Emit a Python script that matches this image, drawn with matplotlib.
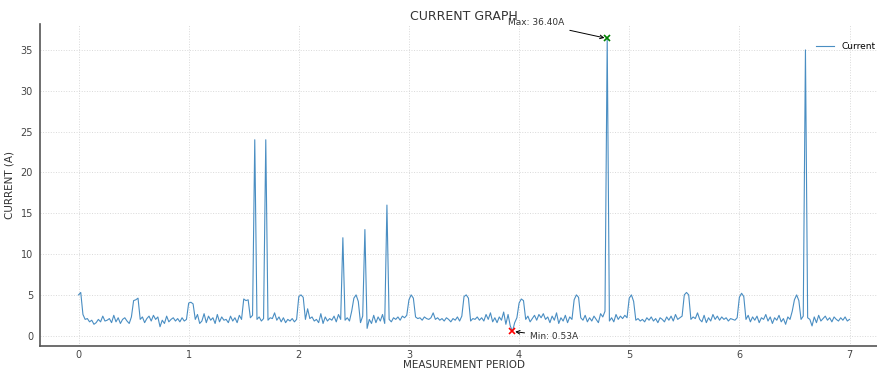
import numpy as np
import matplotlib
matplotlib.use("Agg")
import matplotlib.pyplot as plt

# Current readings sampled every 0.02 of the measurement period (0 .. 7)
seg0 = [5.0, 5.3, 2.6, 2.0, 2.1, 1.7, 1.9, 1.4, 1.6, 2.0,
        1.7, 2.4, 1.8, 1.9, 2.1, 1.6, 2.5, 1.7, 2.2, 1.5,
        2.0, 2.2, 1.8, 1.5, 2.3, 4.3, 4.4, 4.6, 2.0, 2.3,
        1.6, 2.1, 2.4, 1.8, 2.5, 2.0, 2.3, 1.1, 1.9, 1.5,
        2.4, 1.7, 2.0, 2.2, 1.8, 2.1, 1.7, 2.2, 1.8, 2.0]
seg1 = [4.0, 4.1, 3.9, 2.0, 2.6, 1.5, 1.8, 2.7, 1.6, 2.4,
        1.9, 2.2, 1.5, 2.6, 1.7, 2.3, 1.9, 2.0, 1.6, 2.4,
        1.8, 2.2, 1.6, 2.5, 2.0, 4.5, 4.3, 4.4, 2.2, 2.5,
        24.0, 2.0, 2.3, 1.8, 2.1, 24.0, 1.9, 2.2, 2.1, 2.8,
        1.9, 2.3, 1.7, 2.2, 1.6, 2.0, 1.8, 2.1, 1.7, 2.0]
seg2 = [4.8, 5.0, 4.7, 2.0, 3.3, 2.1, 2.3, 1.8, 2.0, 1.6,
        2.7, 1.5, 2.3, 1.8, 2.1, 1.9, 2.4, 1.7, 2.6, 2.0,
        12.0, 1.9, 2.2, 1.8, 3.0, 4.6, 5.0, 4.2, 1.6, 2.4,
        13.0, 0.9, 2.0, 1.5, 2.5, 1.6, 2.3, 1.8, 2.6, 1.5,
        16.0, 2.0, 1.7, 2.2, 2.0, 2.3, 1.9, 2.4, 2.2, 2.5]
seg3 = [4.4, 5.0, 4.6, 2.3, 2.1, 2.2, 1.9, 2.3, 2.1, 2.0,
        2.2, 2.8, 2.0, 2.2, 1.9, 2.1, 1.8, 2.2, 2.0, 1.7,
        2.1, 1.9, 2.3, 1.8, 2.4, 4.8, 5.0, 4.6, 1.8, 2.1,
        2.0, 2.3, 1.9, 2.2, 1.8, 2.6, 2.0, 2.8, 1.7, 2.2,
        1.6, 2.3, 1.9, 2.9, 1.4, 2.6, 1.2, 0.53, 1.6, 2.2]
seg4 = [4.0, 4.5, 4.3, 2.0, 2.4, 1.7, 2.1, 2.5, 1.9, 2.6,
        2.2, 2.7, 2.0, 2.3, 1.6, 2.4, 1.9, 2.8, 1.5, 2.2,
        1.8, 2.5, 1.6, 2.3, 2.0, 4.4, 5.0, 4.7, 2.2, 1.9,
        2.5, 1.7, 2.2, 1.8, 2.4, 2.0, 1.6, 2.7, 2.3, 3.0,
        36.4, 1.8, 2.2, 1.7, 2.6, 2.0, 2.4, 2.1, 2.5, 2.2]
seg5 = [4.6, 5.0, 4.2, 1.9, 2.1, 1.8, 2.0, 1.7, 2.2, 1.9,
        2.3, 1.8, 2.1, 1.6, 2.2, 2.0, 1.7, 2.3, 1.9, 2.4,
        1.8, 2.6, 2.0, 2.2, 2.4, 5.0, 5.3, 5.0, 2.0, 2.3,
        2.1, 2.8, 2.0, 1.7, 2.5, 1.6, 2.2, 1.8, 2.6, 2.0,
        2.4, 1.9, 2.3, 2.0, 2.2, 1.8, 2.1, 2.0, 1.9, 2.2]
seg6 = [4.7, 5.2, 4.8, 2.0, 2.5, 1.7, 2.3, 1.9, 2.4, 1.6,
        2.2, 2.0, 2.6, 1.8, 2.3, 1.5, 2.2, 1.9, 2.5, 1.7,
        2.1, 1.4, 2.3, 2.0, 3.0, 4.4, 5.0, 4.3, 2.0, 2.4,
        35.0, 2.2, 2.0, 1.2, 2.3, 1.6, 2.5, 1.8, 2.1, 2.4,
        1.9, 2.2, 1.7, 2.3, 2.0, 1.8, 2.2, 1.9, 2.3, 1.8,
        2.0]

current = np.array(seg0 + seg1 + seg2 + seg3 + seg4 + seg5 + seg6)
period = np.linspace(0, 7, len(current))

title = "CURRENT GRAPH"
xlabel = "MEASUREMENT PERIOD"
ylabel = "CURRENT (A)"
xticks = [0, 1, 2, 3, 4, 5, 6, 7]
yticks = [0, 5, 10, 15, 20, 25, 30, 35]

fig = plt.figure(figsize=(8.77, 3.69), dpi=100)
ax = fig.add_axes([0.0456, 0.0623, 0.967, 0.873])

ax.plot(period, current, color="#2a7ab8", lw=0.8, alpha=0.85, label="Current")

imax = int(np.argmax(current))
imin = int(np.argmin(current))
ax.plot(period[imax], current[imax], "x", color="green", ms=4, mew=1.2)
ax.plot(period[imin], current[imin], "x", color="red", ms=4, mew=1.2)

ax.annotate(f"Max: {current[imax]:.2f}A", xy=(period[imax], current[imax]),
            xytext=(3.9, 38.3), ha="left", va="center", fontsize=6.5, color="#333333",
            arrowprops=dict(arrowstyle="->", color="black", lw=0.7))
ax.annotate(f"Min: {current[imin]:.2f}A", xy=(period[imin], current[imin]),
            xytext=(4.1, -0.1), ha="left", va="center", fontsize=6.5, color="#333333",
            arrowprops=dict(arrowstyle="->", color="black", lw=0.7))

ax.set_xlim(-0.35, 7.35)
ax.set_ylim(-1.26, 38.19)
ax.set_xticks(xticks)
ax.set_yticks(yticks)
ax.grid(True, linestyle=":", color="#d9d9d9", lw=0.7)
ax.set_axisbelow(True)

for s in ["top", "right"]:
    ax.spines[s].set_visible(False)
for s in ["left", "bottom"]:
    ax.spines[s].set_color("#555555")
    ax.spines[s].set_linewidth(1.2)

ax.tick_params(axis="x", length=0, pad=3, labelsize=7, labelcolor="#444444")
ax.tick_params(axis="y", length=0, pad=5, labelsize=7, labelcolor="#444444")
ax.set_title(title, fontsize=9, color="#333333", pad=3)
ax.set_xlabel(xlabel, fontsize=7.5, color="#333333", labelpad=0)
ax.set_ylabel(ylabel, fontsize=7.5, color="#333333", labelpad=4)

ax.legend(loc="upper right", frameon=False, fontsize=6.5, bbox_to_anchor=(0.995, 0.97),
          handlelength=2.0)

fig.savefig("out.png", dpi=100)
